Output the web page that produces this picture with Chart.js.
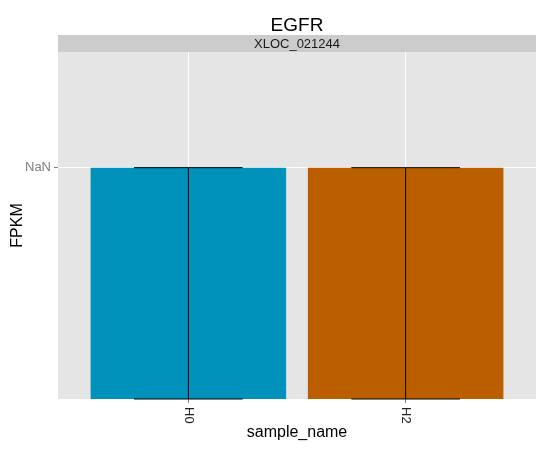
<!DOCTYPE html>
<html>
<head>
<meta charset="utf-8">
<script src="https://cdn.jsdelivr.net/npm/chart.js@4/dist/chart.umd.min.js"></script>
<style>
  body { margin: 0; background: #fff; }
</style>
</head>
<body>
<canvas id="js-fpkmChart" width="550" height="450"></canvas>
<script>
// chart data (values print as NaN on the axis)
var chartTitle  = 'EGFR'
var stripLabel  = 'XLOC_021244'
var sampleNames = ['H0', 'H2']
var samplePos   = [1, 2]
var fpkm        = [1, 1]
var fpkmLow     = [0, 0]
var fpkmHigh    = [1, 1]
var yTickValues = [1]
var yTickLabels = ['NaN']
var barColors   = ['#0092bb', '#bb5e00']

var fontFamily = '"Liberation Sans", Arial, sans-serif'

// grey panel, title and the facet strip
var panelPlugin = {
  id: 'panel'
, beforeDraw: function(chart) {
    var ctx = chart.ctx, a = chart.chartArea
    var mid = (a.left + a.right) / 2
    ctx.save()
    ctx.fillStyle = '#e5e5e5'
    ctx.fillRect(a.left, a.top, a.right - a.left, a.bottom - a.top)
    ctx.fillStyle = '#cccccc'
    ctx.fillRect(a.left, 35, a.right - a.left, a.top - 35)
    ctx.fillStyle = '#000'
    ctx.textAlign = 'center'
    ctx.textBaseline = 'alphabetic'
    ctx.font = '19px ' + fontFamily
    ctx.fillText(chartTitle, mid, 31)
    ctx.fillStyle = '#1a1a1a'
    ctx.font = '13px ' + fontFamily
    ctx.fillText(stripLabel, mid, 48)
    ctx.restore()
  }
}

// error bars plus the x labels turned a quarter clockwise
var errorBarPlugin = {
  id: 'errorBars'
, afterDatasetsDraw: function(chart) {
    var ctx = chart.ctx
    var xs = chart.scales.x, ys = chart.scales.y
    var cap = 0.25
    ctx.save()
    ctx.strokeStyle = '#000'
    ctx.lineWidth = 1
    samplePos.forEach(function(pos, i) {
      var x  = xs.getPixelForValue(pos)
      var x0 = xs.getPixelForValue(pos - cap)
      var x1 = xs.getPixelForValue(pos + cap)
      var lo = ys.getPixelForValue(fpkmLow[i])
      var hi = ys.getPixelForValue(fpkmHigh[i])
      ctx.beginPath()
      ctx.moveTo(x, lo); ctx.lineTo(x, hi)
      ctx.moveTo(x0, lo); ctx.lineTo(x1, lo)
      ctx.moveTo(x0, hi); ctx.lineTo(x1, hi)
      ctx.stroke()
    })
    ctx.restore()
  }
, afterDraw: function(chart) {
    var ctx = chart.ctx
    var xs = chart.scales.x
    ctx.save()
    ctx.fillStyle = '#222'
    ctx.font = '13px ' + fontFamily
    ctx.textAlign = 'left'
    ctx.textBaseline = 'middle'
    samplePos.forEach(function(pos, i) {
      ctx.save()
      ctx.translate(xs.getPixelForValue(pos), xs.top + 8)
      ctx.rotate(Math.PI / 2)
      ctx.fillText(sampleNames[i], 0, 0)
      ctx.restore()
    })
    ctx.restore()
  }
}

var ctx = document.getElementById('js-fpkmChart').getContext('2d')

new Chart(ctx, {
  type: 'bar'
, data: {
    datasets: [{
      data: samplePos.map(function(x, i) { return {x: x, y: fpkm[i]} })
    , backgroundColor: barColors
    , borderWidth: 0
    , barPercentage: 0.9
    , categoryPercentage: 1
    }]
  }
, options: {
    responsive: false
  , animation: false
  , devicePixelRatio: 1
  , layout: {padding: {top: 52, right: 14, left: 0, bottom: 0}}
  , plugins: {legend: {display: false}, tooltip: {enabled: false}}
  , scales: {
      x: {
        type: 'linear'
      , min: 0.4
      , max: 2.6
      , offset: false
      , afterBuildTicks: function(s) { s.ticks = samplePos.map(function(v) { return {value: v} }) }
      , afterFit: function(s) { s.height = 51 }
      , grid: {offset: false, color: '#ffffff', lineWidth: 1, tickColor: '#7f7f7f', tickLength: 4}
      , border: {display: false}
      , ticks: {display: false}
      , title: {
          display: true, text: 'sample_name', color: '#000'
        , font: {size: 16, family: fontFamily}, padding: {top: 0, bottom: 8}
        }
      }
    , y: {
        min: 0
      , max: 1.5
      , afterBuildTicks: function(s) { s.ticks = yTickValues.map(function(v) { return {value: v} }) }
      , afterFit: function(s) { s.width = 58 }
      , grid: {color: '#ffffff', lineWidth: 1, tickColor: '#7f7f7f', tickLength: 4}
      , border: {display: false}
      , ticks: {
          color: '#7f7f7f', padding: 3
        , font: {size: 13, family: fontFamily}
        , callback: function(v) { return yTickLabels[yTickValues.indexOf(v)] }
        }
      , title: {
          display: true, text: 'FPKM', color: '#000'
        , font: {size: 16, family: fontFamily}, padding: {top: 8, bottom: 0}
        }
      }
    }
  }
, plugins: [panelPlugin, errorBarPlugin]
})
</script>
</body>
</html>
